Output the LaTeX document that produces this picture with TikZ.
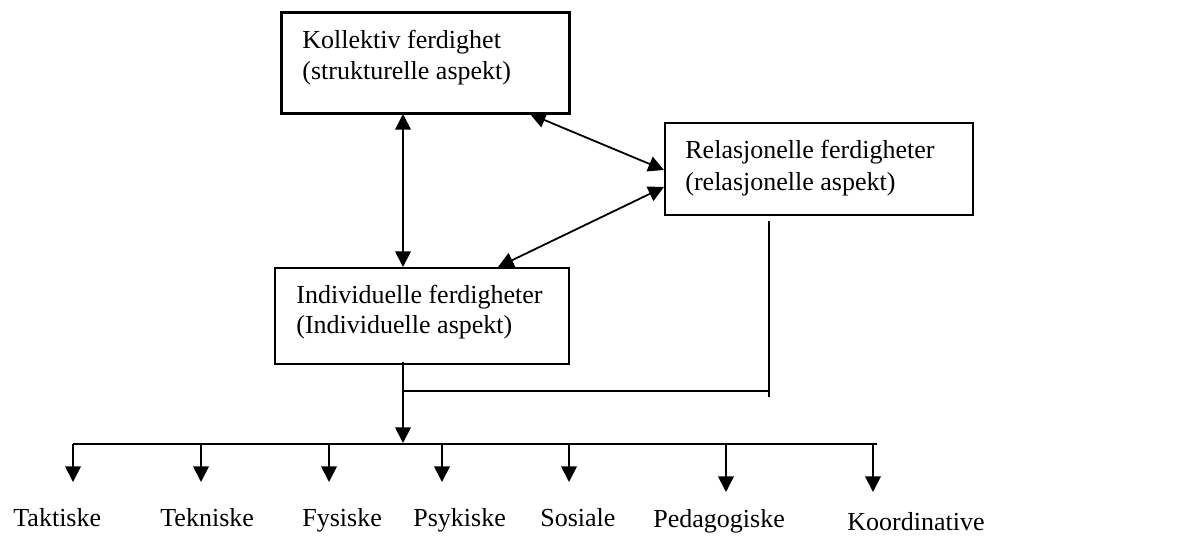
\documentclass[tikz,border=0pt]{standalone}
\usepackage{fontspec}
\setmainfont{Liberation Serif}
\usetikzlibrary{arrows.meta}
\begin{document}
\begin{tikzpicture}[x=0.5pt,y=-0.5pt,
  box/.style={draw, line width=1pt, rectangle, inner sep=0pt, outer sep=0pt, anchor=north west},
  lbl/.style={anchor=base west, inner sep=0pt, align=left, font=\fontsize{13}{15.5}\selectfont},
  conn/.style={line width=0.9pt},
  tip/.style={-{Triangle[length=7.8pt,width=7.8pt]}},
  dtip/.style={{Triangle[length=7.8pt,width=7.8pt]}-{Triangle[length=7.8pt,width=7.8pt]}}]
\useasboundingbox (0,0) rectangle (1201,552);

% boxes
\node[box, line width=1.5pt, minimum width=144pt, minimum height=50.5pt] (kol) at (281,12) {};
\node[box, minimum width=154pt, minimum height=46pt] (rel) at (665,123) {};
\node[box, minimum width=147pt, minimum height=48pt] (ind) at (275,268) {};

% box texts (base anchor = baseline of last line)
\node[lbl] (kolt) at (302,79) {Kollektiv ferdighet\\(strukturelle aspekt)};
\node[lbl, font=\fontsize{13}{16}\selectfont] (relt) at (685,190) {Relasjonelle ferdigheter\\(relasjonelle aspekt)};
\node[lbl, font=\fontsize{13}{15}\selectfont] (indt) at (296,333) {Individuelle ferdigheter\\(Individuelle aspekt)};

% connector points
\coordinate (kolA) at (403,114);
\coordinate (indA) at (403,267);
\coordinate (kolB) at (530,114);
\coordinate (relB) at (664,170);
\coordinate (indC) at (498,267);
\coordinate (relC) at (664,187);
\coordinate (indD) at (403,362);
\coordinate (busC) at (403,443);
\coordinate (relD) at (769,221);
\coordinate (relE) at (769,397);
\coordinate (joinL) at (402,391);
\coordinate (joinR) at (769,391);
\coordinate (busL) at (73,444);
\coordinate (busR) at (877,444);

\draw[conn,dtip] (kolA) -- (indA);
\draw[conn,dtip] (kolB) -- (relB);
\draw[conn,dtip] (indC) -- (relC);
\draw[conn,tip] (indD) -- (busC);
\draw[conn] (relD) -- (relE);
\draw[conn] (joinL) -- (joinR);
\draw[conn] (busL) -- (busR);

% bottom labels
\node[lbl] (tak) at (13,526) {Taktiske};
\node[lbl] (tek) at (160,526) {Tekniske};
\node[lbl] (fys) at (302,526) {Fysiske};
\node[lbl] (psy) at (413,526) {Psykiske};
\node[lbl] (sos) at (540,526) {Sosiale};
\node[lbl] (ped) at (653,527) {Pedagogiske};
\node[lbl] (koo) at (847,530) {Koordinative};

% down arrows
\foreach \x/\y [count=\i] in {73/482,201/482,329/482,442/482,569/482,726/492,873/492}{
  \coordinate (top\i) at (\x,444);
  \coordinate (end\i) at (\x,\y);
  \draw[conn,tip] (top\i) -- (end\i);
}
\end{tikzpicture}
\end{document}
